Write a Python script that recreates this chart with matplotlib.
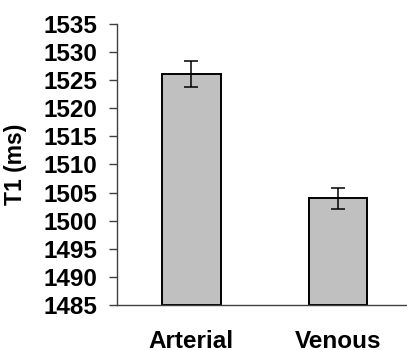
import matplotlib
matplotlib.use("Agg")
import matplotlib.pyplot as plt

# data
categories = ["Arterial", "Venous"]
t1_means = [1526.1, 1504.0]
t1_errors = [2.3, 1.85]
y_ticks = list(range(1485, 1540, 5))

plt.rcParams["font.family"] = ["Liberation Sans", "DejaVu Sans"]
plt.rcParams["font.weight"] = "bold"

fig = plt.figure(figsize=(4.07, 3.50), dpi=100)
ax = fig.add_axes([117 / 407, 45 / 350, 290 / 407, 281 / 350])

x = list(range(len(categories)))
ax.bar(x, [m - 1485 for m in t1_means], bottom=1485, width=0.40,
       color="#C0C0C0", edgecolor="black", linewidth=1.4, zorder=2)
ax.errorbar(x, t1_means, yerr=t1_errors, fmt="none", ecolor="black",
            elinewidth=1.1, capsize=5, capthick=1.1, zorder=3)

ax.set_xlim(-0.508, 1.471)
ax.set_ylim(1485, 1535)
ax.set_yticks(y_ticks)
ax.set_yticklabels([str(t) for t in y_ticks], fontsize=17.5, fontweight="bold")
ax.set_xticks(x)
ax.set_xticklabels(categories, fontsize=17.5, fontweight="bold")

ax.tick_params(axis="y", direction="out", length=6, width=1, color="#404040", pad=8)
ax.tick_params(axis="x", length=0, pad=18)

for s in ["top", "right"]:
    ax.spines[s].set_visible(False)
for s in ["left", "bottom"]:
    ax.spines[s].set_color("#404040")
    ax.spines[s].set_linewidth(1)

ax.set_ylabel("T1 (ms)", fontsize=16.5, fontweight="bold")
ax.yaxis.set_label_coords(-0.31, 0.5)

fig.savefig("out.png", dpi=100, facecolor="white")
